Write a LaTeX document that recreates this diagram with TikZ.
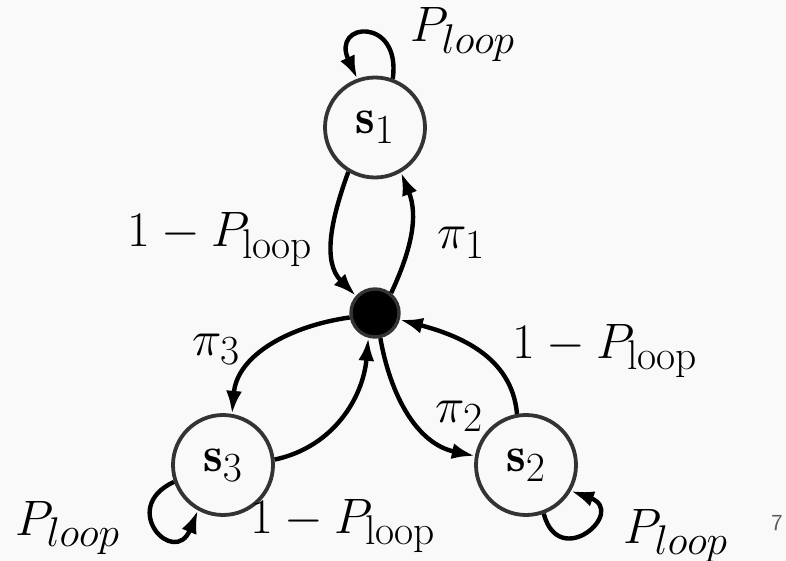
\documentclass[tikz,border=0pt]{standalone}
\usepackage{amsmath}
\usepackage{fontspec}
\usetikzlibrary{arrows.meta}
\definecolor{bg}{RGB}{249,249,249}
\definecolor{ring}{RGB}{51,51,51}
\definecolor{pagenum}{RGB}{90,90,90}
\begin{document}
\begin{tikzpicture}[x=0.5pt,y=0.5pt,
  bigfont/.style={font=\fontsize{24.88}{29}\selectfont},
  state/.style={circle,draw=ring,line width=1.9pt,fill=bg,minimum size=50pt,inner sep=0pt,bigfont},
  hub/.style={circle,draw=ring,line width=1.7pt,fill=black,minimum size=24pt,inner sep=0pt},
  edge/.style={line width=2.2pt,-{Latex[length=11.5pt,width=8pt]}},
  lab/.style={bigfont,inner sep=0pt,anchor=base west}]
\fill[bg] (0,0) rectangle (786,-561);
\useasboundingbox (0,0) rectangle (786,-561);
% nodes
\node[state] (s1) at (375,-127.5) {$\mathbf{s}_1$};
\node[state] (s3) at (223,-465) {$\mathbf{s}_3$};
\node[state] (s2) at (526,-465) {$\mathbf{s}_2$};
\node[hub] (c) at (375,-313) {};
% edges around s1
\draw[edge] (s1.239) to[out=250,in=135] (c.138);
\draw[edge] (c.51) to[out=65,in=292] (s1.300);
% edges around s3
\draw[edge] (c.190) to[out=188,in=85] (s3.80);
\draw[edge] (s3.6) to[out=12,in=265] (c.255);
% edges around s2
\draw[edge] (c.282) to[out=280,in=168] (s2.170);
\draw[edge] (s2.100) to[out=95,in=345] (c.345);
% self loops
\draw[edge] (s1.70) .. controls +(82:63) and +(115:63) .. (s1.110);
\draw[edge] (s3.199) .. controls +(205:62) and +(248:62) .. (s3.241);
\draw[edge] (s2.290) .. controls +(285:60) and +(340:60) .. (s2.330);
% labels
\node[lab] (l1) at (410,-42) {$P_{loop}$};
\node[lab] (l2) at (127,-247) {$1-P_{\mathrm{loop}}$};
\node[lab] (l3) at (437,-249) {$\pi_1$};
\node[lab] (l4) at (192,-355) {$\pi_3$};
\node[lab] (l5) at (512,-358) {$1-P_{\mathrm{loop}}$};
\node[lab] (l6) at (435,-422) {$\pi_2$};
\node[lab] (l7) at (250,-533) {$1-P_{\mathrm{loop}}$};
\node[lab] (l8) at (15,-535) {$P_{loop}$};
\node[lab] (l9) at (623,-543) {$P_{loop}$};
\node[inner sep=0pt,anchor=base,text=pagenum,font=\sffamily\fontsize{11.5}{13}\selectfont] (pg) at (777,-530) {7};
\end{tikzpicture}
\end{document}
